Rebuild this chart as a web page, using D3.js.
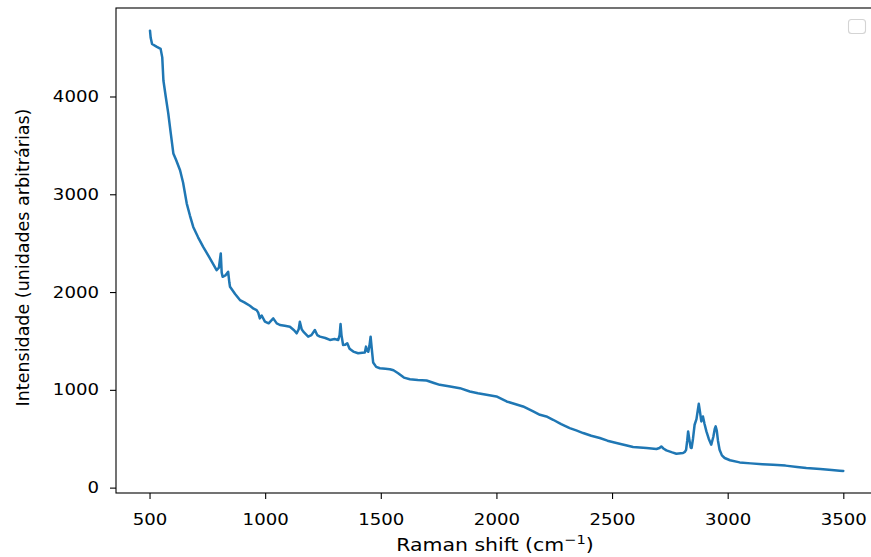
<!DOCTYPE html>
<html>
<head>
<meta charset="utf-8">
<script src="https://cdn.jsdelivr.net/npm/d3@7"></script>
<style>
  html, body { margin: 0; padding: 0; background: #fff; }
  svg { display: block; }
  text { font-family: "DejaVu Sans", sans-serif; fill: #000; }
</style>
</head>
<body>
<svg id="chart" width="871" height="557"></svg>
<script>
// ---- data ----
const ramanShift = [502,505,511,530,548,555,560,570,581,592,603,615,632,645,661,675,689,710,732,760,790,800,808,812,816,828,840,845,848,870,891,910,934,950,963,970,977,985,999,1015,1035,1050,1064,1085,1107,1125,1136,1145,1150,1158,1165,1186,1200,1215,1225,1237,1260,1280,1300,1316,1322,1326,1330,1337,1345,1355,1365,1381,1402,1420,1431,1436,1441,1446,1451,1456,1461,1467,1480,1496,1520,1539,1555,1575,1600,1626,1660,1698,1730,1755,1800,1842,1885,1920,1957,2000,2044,2080,2115,2159,2188,2216,2245,2280,2317,2345,2375,2410,2447,2480,2519,2555,2591,2620,2649,2692,2705,2713,2722,2735,2760,2778,2807,2815,2820,2825,2829,2835,2840,2844,2850,2857,2865,2870,2875,2880,2886,2893,2900,2908,2918,2929,2938,2944,2948,2953,2958,2965,2975,2987,3010,3052,3100,3150,3196,3250,3300,3340,3400,3450,3484,3500];
const intensity = [4673,4600,4537,4510,4487,4400,4163,4000,3827,3620,3418,3350,3245,3120,2905,2780,2666,2560,2462,2350,2224,2250,2395,2200,2156,2170,2207,2100,2054,1980,1918,1895,1860,1830,1816,1790,1731,1760,1697,1680,1731,1680,1663,1655,1646,1610,1578,1620,1697,1620,1595,1544,1560,1612,1560,1544,1530,1510,1520,1510,1560,1673,1560,1459,1460,1476,1420,1391,1374,1380,1381,1442,1400,1390,1450,1544,1420,1280,1235,1221,1215,1211,1200,1170,1125,1109,1100,1095,1070,1051,1035,1017,983,965,949,932,881,855,830,779,745,728,694,650,609,585,558,530,507,480,456,435,415,410,405,395,405,421,400,381,360,347,354,365,385,480,575,480,410,405,500,643,700,780,857,780,677,728,650,575,500,439,520,600,626,580,480,388,330,303,280,258,248,240,235,225,212,201,190,180,173,170];
const xTicks = [500,1000,1500,2000,2500,3000,3500];
const yTicks = [0,1000,2000,3000,4000];
const xLabel = "Raman shift (cm";
const yLabel = "Intensidade (unidades arbitrárias)";

// ---- layout ----
const L = 116, R = 878, T = 8, B = 493;
const SX = 1.17; // horizontal text stretch
const svg = d3.select("#chart");

const x = d3.scaleLinear().domain([355, 3650]).range([L, R]);
const y = d3.scaleLinear().domain([-55, 4905]).range([B, T]);

// line
const pts = ramanShift.map((v, i) => [v, intensity[i]]);
svg.append("path")
  .datum(pts)
  .attr("fill", "none")
  .attr("stroke", "#1f77b4")
  .attr("stroke-width", 2.5)
  .attr("stroke-linejoin", "round")
  .attr("stroke-linecap", "round")
  .attr("d", d3.line().x(d => x(d[0])).y(d => y(d[1])));

// axes
const xAxis = svg.append("g").attr("transform", `translate(0,${B})`)
  .call(d3.axisBottom(x).tickValues(xTicks).tickSize(6).tickPadding(15).tickFormat(d3.format("d")));
const yAxis = svg.append("g").attr("transform", `translate(${L},0)`)
  .call(d3.axisLeft(y).tickValues(yTicks).tickSize(6).tickPadding(11).tickFormat(d3.format("d")));
[xAxis, yAxis].forEach(g => {
  g.select(".domain").remove();
  g.selectAll(".tick line").attr("stroke", "#000").attr("stroke-width", 1.1);
  g.selectAll(".tick text").attr("font-size", 15.5).attr("font-family", "DejaVu Sans").attr("fill", "#000");
});
xAxis.selectAll(".tick text").each(function() {
  const t = d3.select(this);
  const yy = +t.attr("y");
  t.attr("y", null).attr("dy", "0.71em").attr("transform", `translate(0,${yy}) scale(${SX},1)`);
});
yAxis.selectAll(".tick text").each(function() {
  const t = d3.select(this);
  const xx = +t.attr("x");
  t.attr("x", null).attr("transform", `translate(${xx},0) scale(${SX},1)`);
});

// frame (spines)
svg.append("rect")
  .attr("x", L).attr("y", T).attr("width", R - L).attr("height", B - T)
  .attr("fill", "none").attr("stroke", "#000").attr("stroke-width", 1.1);

// axis labels
const xl = svg.append("text")
  .attr("text-anchor", "middle")
  .attr("font-size", 17.5)
  .attr("transform", `translate(${(L + R) / 2 - 2},551) scale(${SX},1)`);
xl.append("tspan").text(xLabel);
xl.append("tspan").attr("font-size", 12.5).attr("dy", -7).text("−1");
xl.append("tspan").attr("dy", 7).text(")");

svg.append("text")
  .attr("text-anchor", "middle")
  .attr("font-size", 17.5)
  .attr("transform", `translate(29,${(T + B) / 2 + 7}) rotate(-90) scale(1,1.05)`)
  .text(yLabel);

// empty legend box
svg.append("rect")
  .attr("x", 848.5).attr("y", 19.5).attr("width", 17).attr("height", 14).attr("rx", 3)
  .attr("fill", "#fff").attr("fill-opacity", 0.8)
  .attr("stroke", "#d4d4d4").attr("stroke-width", 1.1);
</script>
</body>
</html>
